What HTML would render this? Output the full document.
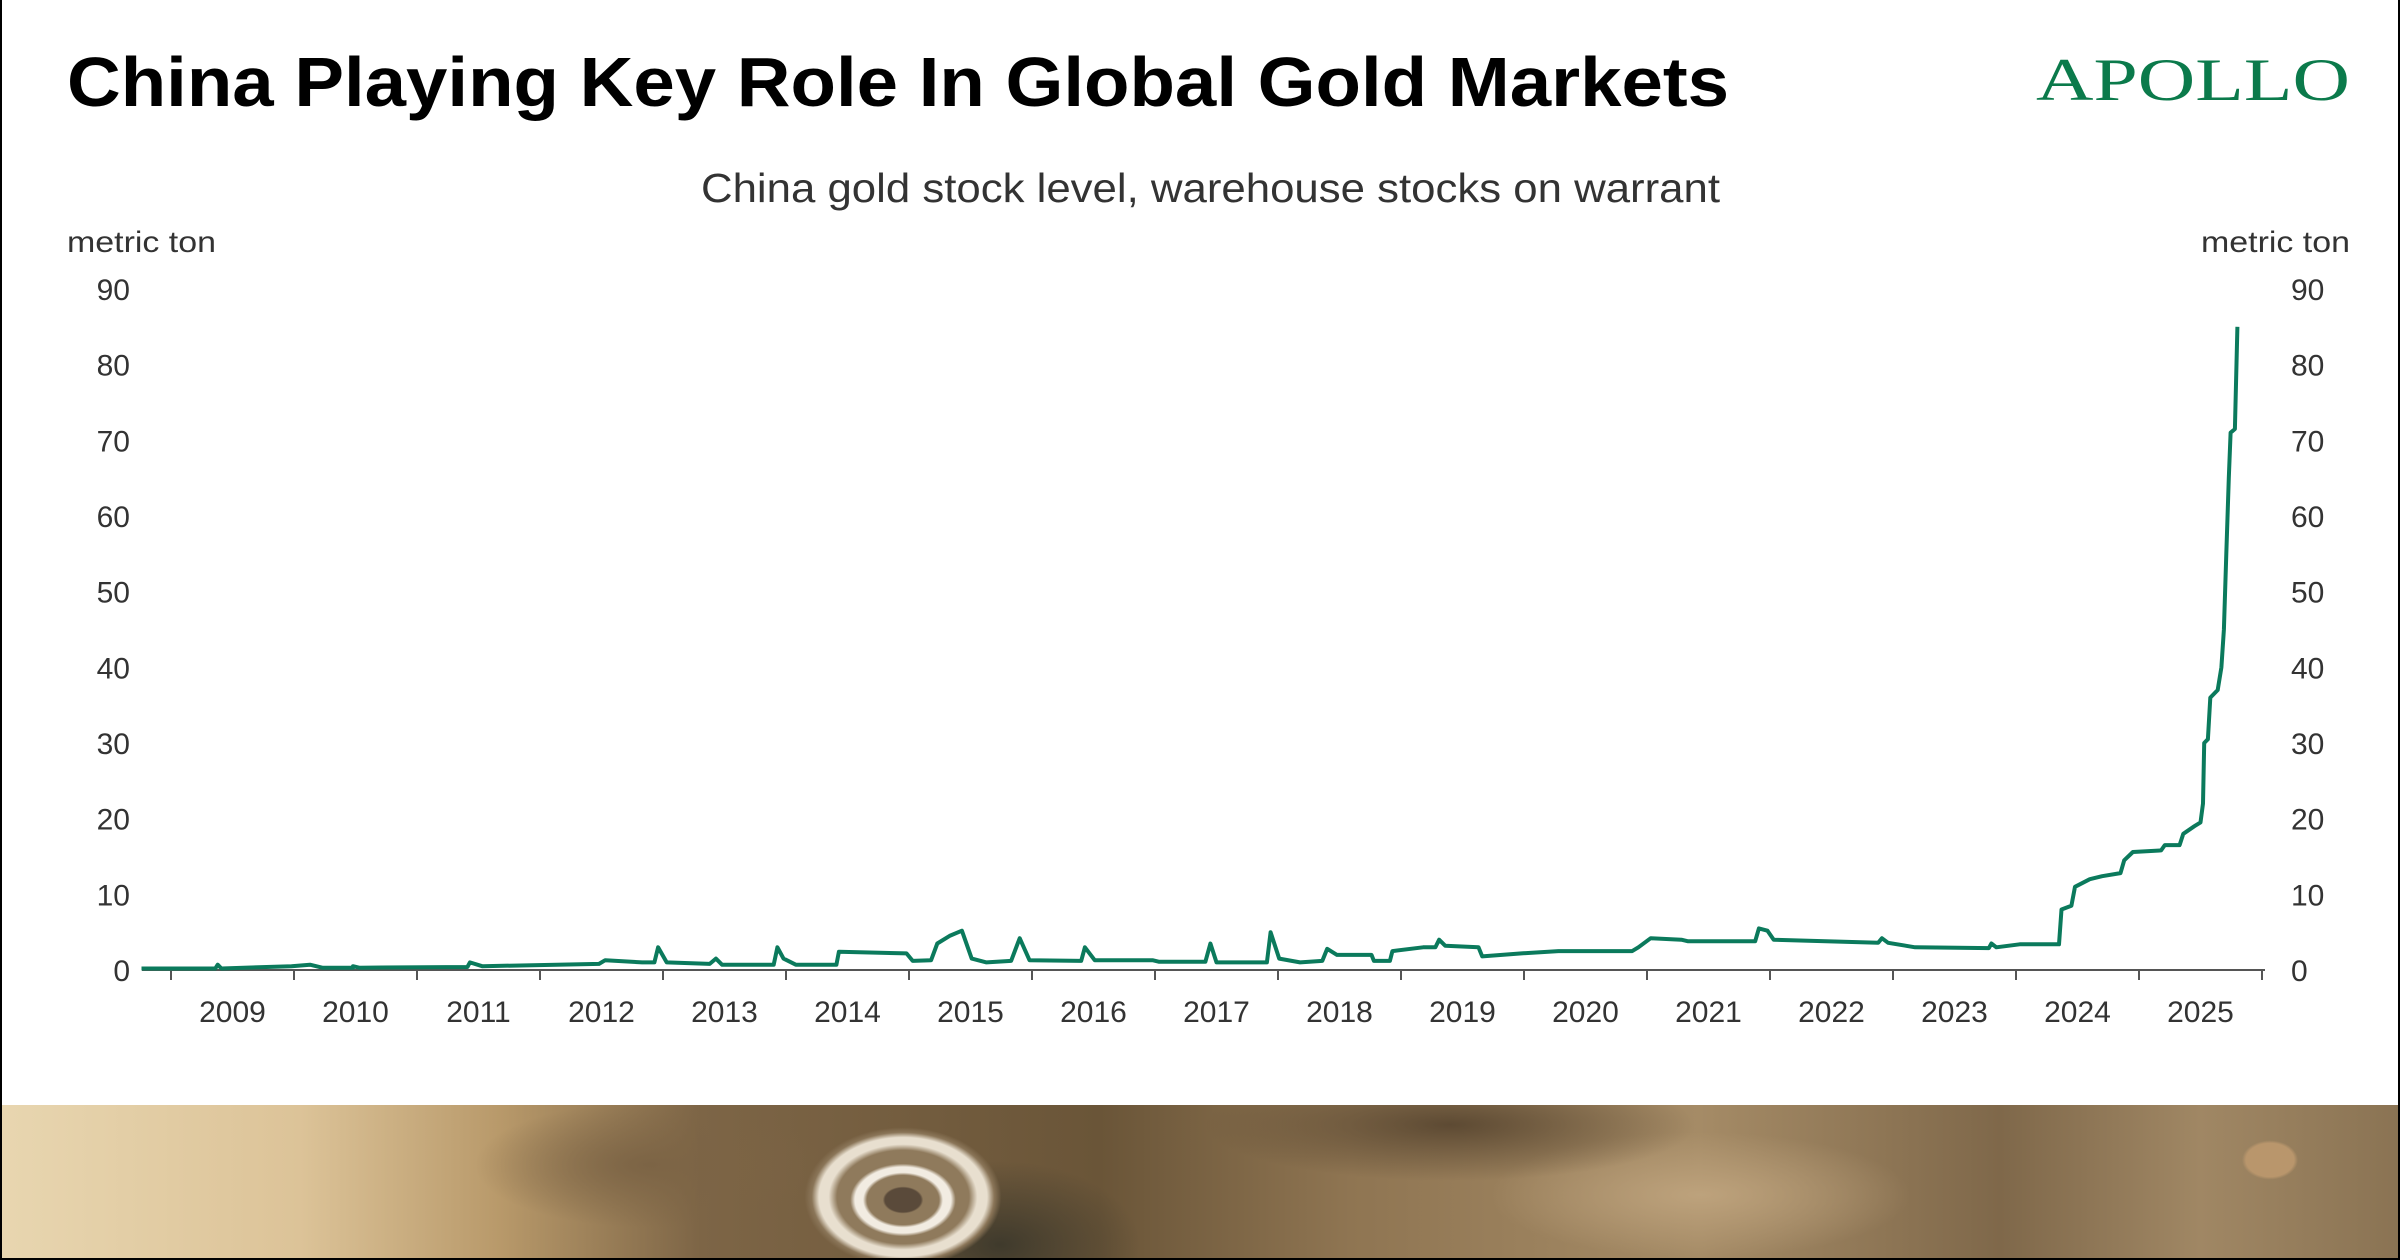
<!DOCTYPE html>
<html><head><meta charset="utf-8"><style>
html,body{margin:0;padding:0}
body{width:2400px;height:1260px;position:relative;background:#fff;overflow:hidden;font-family:"Liberation Sans",sans-serif}
#band{position:absolute;left:0;top:1105px;width:2400px;height:155px;
background:
radial-gradient(ellipse 45px 30px at 903px 95px,#5a4a3a 0 40%,transparent 45%),
radial-gradient(ellipse 80px 55px at 903px 95px,transparent 0 45%,#f2ece2 50% 60%,transparent 66%),
radial-gradient(ellipse 120px 85px at 903px 92px,#8f7a5c 0 55%,#e8dfcf 62% 70%,#8a7558 76%,transparent 82%),
radial-gradient(ellipse 200px 120px at 1000px 140px,#3f3a2c 0,transparent 70%),
radial-gradient(ellipse 40px 28px at 2270px 55px,#b9966c 0 60%,transparent 70%),
radial-gradient(ellipse 350px 80px at 1450px 20px,#5d4a33 0,transparent 70%),
radial-gradient(ellipse 300px 90px at 1700px 90px,#bda27c 0,transparent 70%),
radial-gradient(ellipse 250px 90px at 650px 60px,#7c6445 0,transparent 70%),
linear-gradient(90deg,#e8d6b0 0,#dcc398 300px,#b8996a 500px,#7d6546 700px,#6a5538 1100px,#8f7552 1350px,#a58b66 1700px,#7f684a 2000px,#a08764 2200px,#8a7353 2400px);}
.brd{position:absolute;background:#000}
</style></head><body>
<div id="band"></div>
<div class="brd" style="left:0;top:0;width:2px;height:1260px"></div>
<div class="brd" style="right:0;top:0;width:2px;height:1260px"></div>
<div class="brd" style="left:0;bottom:0;width:2400px;height:2px"></div>
<svg width="2400" height="1105" style="position:absolute;left:0;top:0" xmlns="http://www.w3.org/2000/svg">
<text x="67" y="106" font-family="Liberation Sans" font-weight="bold" font-size="70" textLength="1662" lengthAdjust="spacingAndGlyphs" fill="#000">China Playing Key Role In Global Gold Markets</text>
<text x="2036" y="100" font-family="Liberation Serif" font-size="60" textLength="314" lengthAdjust="spacingAndGlyphs" fill="#0b7a4b">APOLLO</text>
<text x="701" y="202" font-size="41" fill="#333" textLength="1019" lengthAdjust="spacingAndGlyphs">China gold stock level, warehouse stocks on warrant</text>
<text x="67" y="252" font-size="30" fill="#333" textLength="149" lengthAdjust="spacingAndGlyphs">metric ton</text>
<text x="2201" y="252" font-size="30" fill="#333" textLength="149" lengthAdjust="spacingAndGlyphs">metric ton</text>
<g id="yl" font-size="30" fill="#333"></g>
<line x1="142" y1="970" x2="2265" y2="970" stroke="#555" stroke-width="2"/>
<g id="xt" stroke="#555" stroke-width="2"></g>
<g id="xl" font-size="30" fill="#333" text-anchor="middle"></g>
<path id="ln" fill="none" stroke="#0b7a5c" stroke-width="4" stroke-linejoin="round"/>
</svg>
<script>
var ns="http://www.w3.org/2000/svg";
function Y(v){return 970-v*7.567}
function X(t){return 171+(t-2009)*123}
var yl=document.getElementById('yl');
for(var v=0;v<=90;v+=10){
 var a=document.createElementNS(ns,'text');a.setAttribute('x',130);a.setAttribute('y',Y(v)+11);a.setAttribute('text-anchor','end');a.textContent=v;yl.appendChild(a);
 var b=document.createElementNS(ns,'text');b.setAttribute('x',2291);b.setAttribute('y',Y(v)+11);b.textContent=v;yl.appendChild(b);}
var xt=document.getElementById('xt'),xl=document.getElementById('xl');
for(var y=2009;y<=2026;y++){
 var l=document.createElementNS(ns,'line');l.setAttribute('x1',X(y));l.setAttribute('x2',X(y));l.setAttribute('y1',970);l.setAttribute('y2',980);xt.appendChild(l);
 if(y<2026){var t=document.createElementNS(ns,'text');t.setAttribute('x',X(y+0.5));t.setAttribute('y',1022);t.textContent=y;xl.appendChild(t);}}
var p=[[2008.88,0.2],[2008.9,0.7],[2008.93,0.2],[2009.5,0.5],[2009.65,0.7],[2009.75,0.3],[2010,0.3],[2010,0.5],[2010.05,0.3],[2010.93,0.4],[2010.95,1],[2011.05,0.5],[2012,0.8],[2012.05,1.3],[2012.35,1.0],[2012.45,1],[2012.48,3],[2012.55,1.0],[2012.9,0.8],[2012.95,1.5],[2013,0.7],[2013.42,0.7],[2013.45,3],[2013.5,1.5],[2013.6,0.7],[2013.93,0.7],[2013.95,2.4],[2014.5,2.2],[2014.55,1.2],[2014.7,1.3],[2014.75,3.5],[2014.85,4.5],[2014.95,5.2],[2015.03,1.5],[2015.15,1.0],[2015.35,1.2],[2015.42,4.2],[2015.5,1.3],[2015.92,1.2],[2015.95,3],[2016.03,1.3],[2016.5,1.3],[2016.55,1.1],[2016.93,1.1],[2016.97,3.5],[2017.02,1],[2017.43,1],[2017.46,5],[2017.53,1.5],[2017.7,1],[2017.88,1.2],[2017.92,2.8],[2018.0,2.0],[2018.28,2.0],[2018.3,1.2],[2018.43,1.2],[2018.45,2.5],[2018.7,3.0],[2018.8,3.0],[2018.83,4],[2018.88,3.2],[2019.15,3.0],[2019.18,1.8],[2019.5,2.2],[2019.8,2.5],[2020.4,2.5],[2020.45,3.0],[2020.55,4.2],[2020.8,4],[2020.85,3.8],[2021.4,3.8],[2021.43,5.5],[2021.5,5.2],[2021.55,4],[2022.4,3.6],[2022.43,4.2],[2022.48,3.6],[2022.7,3.0],[2023.3,2.9],[2023.32,3.5],[2023.36,3.0],[2023.55,3.4],[2023.85,3.4]];
p=p.map(function(q){return [q[0]+0.48,q[1]]});
p.unshift([2008.76,0.2]);
p=p.concat([[2024.35,3.4],[2024.37,8],[2024.45,8.5],[2024.48,11],[2024.6,12],[2024.7,12.4],[2024.85,12.8],[2024.88,14.5],[2024.95,15.6],[2025.18,15.8],[2025.21,16.5],[2025.33,16.5],[2025.36,18],[2025.45,19],[2025.5,19.5],[2025.52,22],[2025.53,30],[2025.56,30.5],[2025.58,36],[2025.64,37],[2025.67,40],[2025.69,45],[2025.71,55],[2025.73,65],[2025.745,71],[2025.78,71.5],[2025.8,85]]);
var d='';p.forEach(function(q,i){d+=(i?'L':'M')+X(q[0]).toFixed(1)+' '+Y(q[1]).toFixed(1)});
document.getElementById('ln').setAttribute('d',d);
</script>
</body></html>
